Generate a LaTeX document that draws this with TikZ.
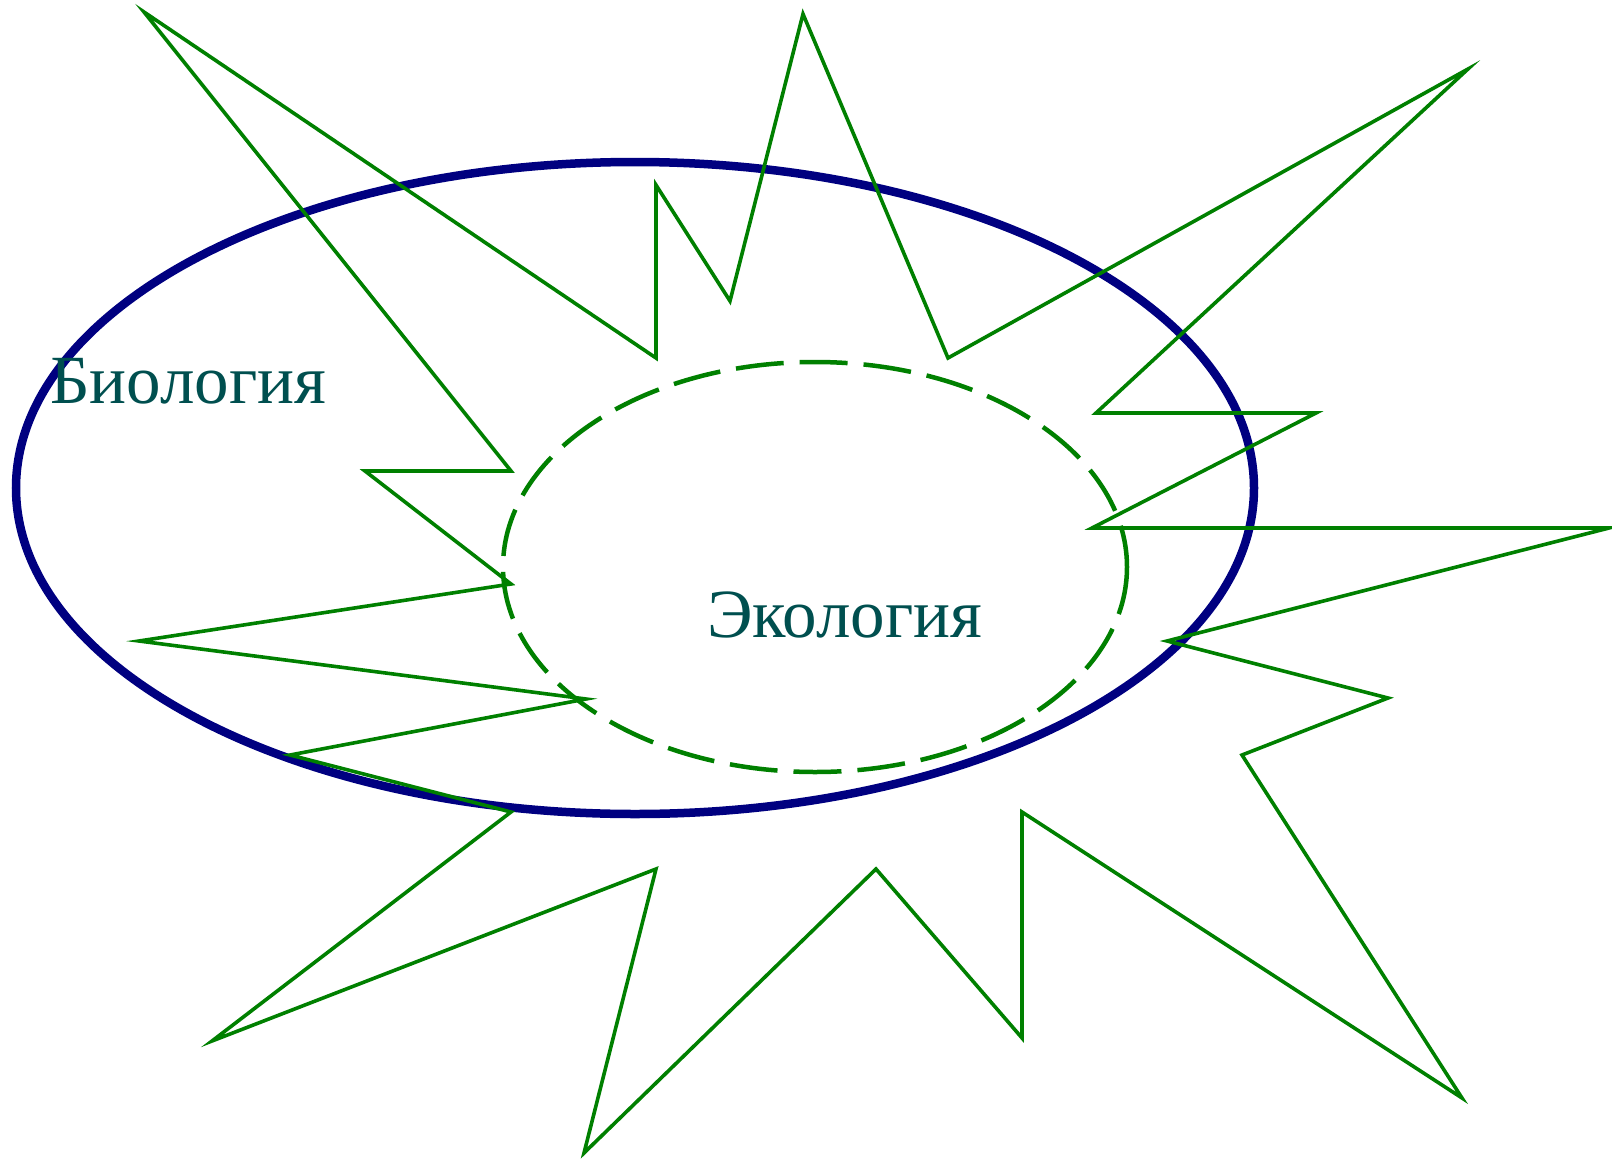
\documentclass[tikz,border=0pt]{standalone}
\usepackage{fontspec}
\setmainfont{Liberation Serif}
\usepackage{xcolor}
\usepackage{tikz}
\definecolor{bionavy}{HTML}{000080}
\definecolor{ecogreen}{HTML}{008000}
\definecolor{labelteal}{HTML}{004F4F}

\begin{document}
\begin{tikzpicture}[x=1pt, y=-1pt,
    biofield/.style={draw=bionavy, line width=8.5pt},
    ecofield/.style={draw=ecogreen, line width=4.5pt, dash pattern=on 48pt off 16pt},
    burst/.style={draw=ecogreen, line width=3.6pt, line join=miter, miter limit=20},
    fieldlabel/.style={anchor=base west, inner sep=0pt, text=labelteal,
                       font=\fontsize{69}{80}\selectfont},
]
\useasboundingbox (0,0) rectangle (1612,1159);

% Biology (outer) and ecology (inner) fields
\draw[biofield] (635,488) ellipse [x radius=619, y radius=326];
\draw[ecofield] (815,567) ellipse [x radius=312, y radius=205];

% burst around the ecology field
\draw[burst] (144,12) -- (656,358) -- (656,185) -- (730,301) -- (803,14)
    -- (948,358) -- (1468,69) -- (1096,413) -- (1316,413) -- (1092,528)
    -- (1609,528) -- (1167,641) -- (1388,698) -- (1242,755) -- (1462,1098)
    -- (1022,812) -- (1022,1038) -- (876,869) -- (584,1153) -- (656,869)
    -- (212,1041) -- (511,812) -- (290,755) -- (586,699) -- (139,641)
    -- (511,584) -- (365,471) -- (511,471) -- cycle;

\node[fieldlabel] (bio) at (50,403) {Биология};
\node[fieldlabel] (eco) at (707,637) {Экология};
\end{tikzpicture}
\end{document}
